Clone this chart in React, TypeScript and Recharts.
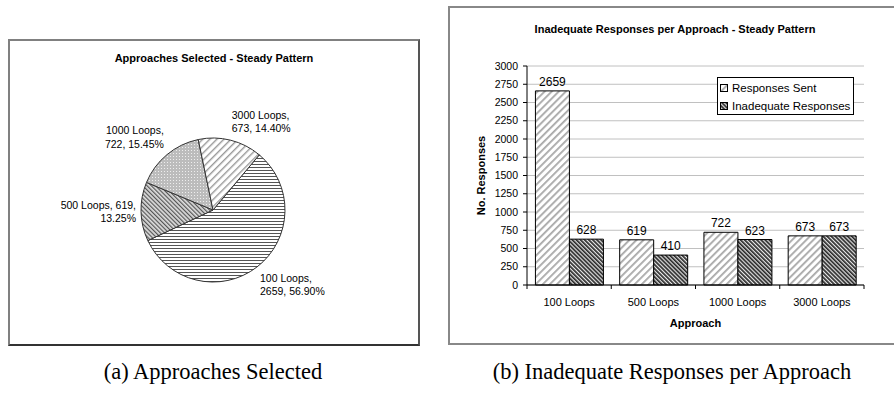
import React from "react";
import {
  PieChart,
  Pie,
  Cell,
  BarChart,
  Bar,
  XAxis,
  YAxis,
  CartesianGrid,
  Legend,
  LabelList,
} from "recharts";

const approaches = ["100 Loops", "500 Loops", "1000 Loops", "3000 Loops"];
const selectedCounts = [2659, 619, 722, 673];
const responsesSent = [2659, 619, 722, 673];
const inadequateResponses = [628, 410, 623, 673];
const yTicks = [0, 250, 500, 750, 1000, 1250, 1500, 1750, 2000, 2250, 2500, 2750, 3000];

const pieFills = ["url(#pHoriz)", "url(#pBack)", "url(#pDots)", "url(#pFwd)"];

const FONT = "'Liberation Sans', Arial, sans-serif";

const pieData = approaches.map((name, i) => ({ name, value: selectedCounts[i] }));
const barData = approaches.map((name, i) => ({
  name,
  sent: responsesSent[i],
  inadequate: inadequateResponses[i],
}));

const barSeries = [
  { key: "sent", name: "Responses Sent", fill: "url(#bSent)" },
  { key: "inadequate", name: "Inadequate Responses", fill: "url(#bInad)" },
];

function wrapText(text: string, maxChars: number): string[] {
  const lines: string[] = [];
  let cur = "";
  for (const w of text.split(" ")) {
    const next = cur ? `${cur} ${w}` : w;
    if (next.length > maxChars && cur) {
      lines.push(cur);
      cur = w;
    } else cur = next;
  }
  if (cur) lines.push(cur);
  return lines;
}

// excel-ish "outside end" labels: box corner touches the slice edge
function PieLabel(props: any) {
  const { cx, cy, midAngle, outerRadius, name, value, percent } = props;
  const rad = (-midAngle * Math.PI) / 180;
  const r = outerRadius + 5;
  const px = cx + r * Math.cos(rad);
  const py = cy + r * Math.sin(rad);
  const up = -Math.sin(rad);
  const lines = wrapText(`${name}, ${value}, ${(percent * 100).toFixed(2)}%`, 15);
  const lh = 13.5;
  let top = py - (lines.length * lh) / 2;
  if (up > 0.3) top = py - lines.length * lh;
  else if (up < -0.3) top = py;
  const anchor = Math.cos(rad) >= 0 ? "start" : "end";
  return (
    <text
      x={px}
      y={top}
      textAnchor={anchor}
      fontFamily={FONT}
      fontSize={10.5}
      fill="#000"
    >
      {lines.map((l, i) => (
        <tspan key={i} x={px} dy={i === 0 ? 10.5 : lh}>
          {l}
        </tspan>
      ))}
    </text>
  );
}

function CategoryTick(props: any) {
  const { x, y, payload, index, visibleTicksCount } = props;
  const half = payload?.offset ?? 42;
  return (
    <g>
      <line x1={x - half} y1={y} x2={x - half} y2={y + 4} stroke="#000" />
      {index === visibleTicksCount - 1 && (
        <line x1={x + half} y1={y} x2={x + half} y2={y + 4} stroke="#000" />
      )}
      <text x={x} y={y + 21} textAnchor="middle" fontFamily={FONT} fontSize={11} fill="#000">
        {payload.value}
      </text>
    </g>
  );
}

function LegendBox() {
  return (
    <div
      style={{
        border: "1px solid #000",
        background: "#fff",
        width: 133,
        height: 35,
        padding: "1px 0 0 2px",
        fontFamily: FONT,
        fontSize: 11.5,
        boxSizing: "content-box",
      }}
    >
      {barSeries.map((s) => (
        <div key={s.key} style={{ display: "flex", alignItems: "center", height: 18 }}>
          <svg width={9} height={9} style={{ marginRight: 3 }}>
            <rect x={0.5} y={0.5} width={7} height={7} fill={s.fill} stroke="#000" />
          </svg>
          <span>{s.name}</span>
        </div>
      ))}
    </div>
  );
}

function Patterns() {
  return (
    <svg width={0} height={0} style={{ position: "absolute" }}>
      <defs>
        <pattern id="pHoriz" patternUnits="userSpaceOnUse" width={6} height={3}>
          <rect width={6} height={3} fill="#fff" />
          <rect y={0} width={6} height={1} fill="#555" />
        </pattern>
        <pattern id="pFwd" patternUnits="userSpaceOnUse" width={5} height={5} patternTransform="rotate(45)">
          <rect width={5} height={5} fill="#fff" />
          <rect x={0} width={1.4} height={5} fill="#999" />
        </pattern>
        <pattern id="pBack" patternUnits="userSpaceOnUse" width={3} height={3} patternTransform="rotate(-45)">
          <rect width={3} height={3} fill="#ddd" />
          <rect x={0} width={1.2} height={3} fill="#555" />
        </pattern>
        <pattern id="pDots" patternUnits="userSpaceOnUse" width={3} height={3}>
          <rect width={3} height={3} fill="#bcbcbc" />
          <rect x={1} y={1} width={1} height={1} fill="#eee" />
        </pattern>
        <pattern id="bSent" patternUnits="userSpaceOnUse" width={5} height={5} patternTransform="rotate(45)">
          <rect width={5} height={5} fill="#fff" />
          <rect x={0} width={1.8} height={5} fill="#a8a8a8" />
        </pattern>
        <pattern id="bInad" patternUnits="userSpaceOnUse" width={2.9} height={2.9} patternTransform="rotate(-45)">
          <rect width={2.9} height={2.9} fill="#e8e8e8" />
          <rect x={0} width={1.7} height={2.9} fill="#2a2a2a" />
        </pattern>
      </defs>
    </svg>
  );
}

const titleStyle: React.CSSProperties = {
  position: "absolute",
  left: 0,
  right: 0,
  textAlign: "center",
  fontFamily: FONT,
  fontWeight: "bold",
  fontSize: 11,
  color: "#000",
};

const captionStyle: React.CSSProperties = {
  position: "absolute",
  top: 359,
  fontFamily: "'Liberation Serif', 'DejaVu Serif', serif",
  fontSize: 22.5,
  color: "#000",
  textAlign: "center",
  whiteSpace: "nowrap",
};

export default function App() {
  return (
    <div
      style={{
        position: "absolute",
        left: 0,
        top: 0,
        width: 894,
        height: 396,
        overflow: "hidden",
        background: "#fff",
      }}
    >
      <Patterns />

      {/* (a) pie */}
      <div
        style={{
          position: "absolute",
          left: 8,
          top: 39,
          width: 412,
          height: 307,
          boxSizing: "border-box",
          borderStyle: "solid",
          borderWidth: 2,
          borderColor: "#808080 #555 #333 #808080",
        }}
      >
        <div style={{ ...titleStyle, top: 11 }}>Approaches Selected - Steady Pattern</div>
        <PieChart width={408} height={303} margin={{ top: 0, right: 0, bottom: 0, left: 0 }}>
          <Pie
            data={pieData}
            dataKey="value"
            nameKey="name"
            cx={203}
            cy={169}
            outerRadius={72}
            startAngle={50}
            endAngle={-310}
            stroke="#333"
            strokeWidth={1}
            label={PieLabel}
            labelLine={false}
            isAnimationActive={false}
          >
            {pieData.map((d, i) => (
              <Cell key={d.name} fill={pieFills[i]} />
            ))}
          </Pie>
        </PieChart>
      </div>

      {/* (b) bars */}
      <div
        style={{
          position: "absolute",
          left: 448,
          top: 6,
          width: 460,
          height: 339,
          boxSizing: "border-box",
          border: "2px solid #888",
        }}
      >
        <div style={{ ...titleStyle, top: 15, width: 450, right: "auto" }}>
          Inadequate Responses per Approach - Steady Pattern
        </div>
        <BarChart
          width={444}
          height={335}
          data={barData}
          margin={{ top: 58, right: 30, left: 20, bottom: 13 }}
          barGap={0}
          barCategoryGap="10%"
        >
          <CartesianGrid vertical={false} stroke="#c0c0c0" />
          <XAxis
            dataKey="name"
            height={45}
            axisLine={{ stroke: "#000" }}
            tickLine={false}
            tickSize={0}
            tickMargin={0}
            tick={<CategoryTick />}
            interval={0}
            label={{
              value: "Approach",
              position: "insideBottom",
              offset: 3,
              style: { fontFamily: FONT, fontWeight: "bold", fontSize: 11, fill: "#000" },
            }}
          />
          <YAxis
            width={57}
            domain={[0, 3000]}
            ticks={yTicks}
            interval={0}
            axisLine={{ stroke: "#000" }}
            tickLine={{ stroke: "#000" }}
            tickSize={4}
            tickMargin={5}
            tick={{ fontFamily: FONT, fontSize: 10.5, fill: "#000" }}
            label={{
              value: "No. Responses",
              angle: -90,
              position: "insideLeft",
              offset: 11,
              style: {
                textAnchor: "middle",
                fontFamily: FONT,
                fontWeight: "bold",
                fontSize: 11,
                fill: "#000",
              },
            }}
          />
          <YAxis
            yAxisId="frame"
            orientation="right"
            width={0}
            tick={false}
            tickLine={false}
            axisLine={{ stroke: "#c0c0c0" }}
          />
          <Legend
            layout="vertical"
            align="center"
            verticalAlign="middle"
            content={<LegendBox />}
            wrapperStyle={{ left: 267, top: 69, width: "auto" }}
          />
          {barSeries.map((s) => (
            <Bar
              key={s.key}
              dataKey={s.key}
              name={s.name}
              fill={s.fill}
              stroke="#000"
              strokeWidth={1}
              isAnimationActive={false}
            >
              <LabelList
                dataKey={s.key}
                position="top"
                offset={5}
                style={{ fontFamily: FONT, fontSize: 12, fill: "#000" }}
              />
            </Bar>
          ))}
        </BarChart>
      </div>

      <div style={{ ...captionStyle, left: 13, width: 400 }}>(a) Approaches Selected</div>
      <div style={{ ...captionStyle, left: 452, width: 440 }}>
        (b) Inadequate Responses per Approach
      </div>
    </div>
  );
}
